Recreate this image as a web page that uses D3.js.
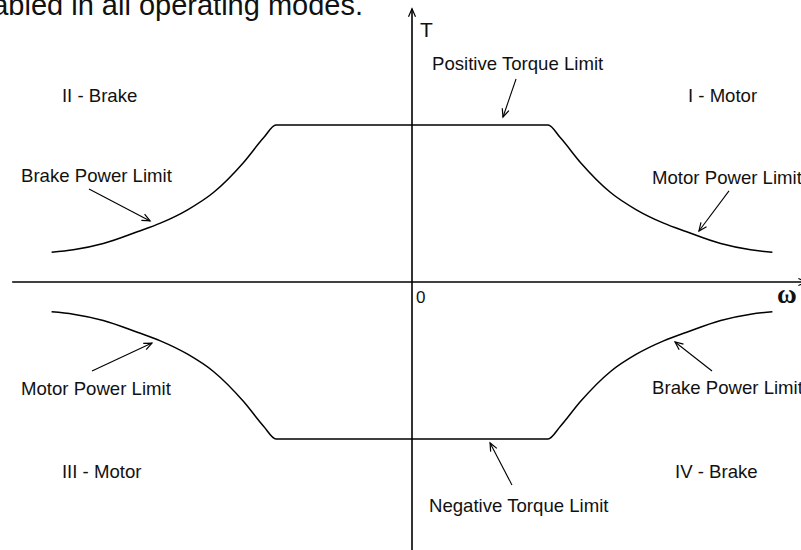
<!DOCTYPE html>
<html>
<head>
<meta charset="utf-8">
<script src="https://cdn.jsdelivr.net/npm/d3@7"></script>
<style>
  html, body { margin: 0; padding: 0; background: #ffffff; }
  svg { display: block; }
  text { font-family: "Liberation Sans", Arial, sans-serif; fill: #111; }
</style>
</head>
<body>
<svg id="chart" width="801" height="550"></svg>
<script>
// Torque-speed operating envelope, per-unit values (speed / base speed, torque / rated torque)
const limitSpeed  = [1.00, 1.09, 1.24, 1.46, 1.65, 1.85, 2.02, 2.27, 2.49, 2.65];
const limitTorque = [1.00, 0.92, 0.76, 0.57, 0.46, 0.375, 0.32, 0.245, 0.205, 0.19];

// Axis extents (per unit)
const speedAxis  = [-2.94, 2.90];
const torqueAxis = [-1.80, 1.74];

// Region and curve labels: [text, speed, torque] (torque = vertical centre of the text)
const labelText   = ["Positive Torque Limit", "II - Brake", "I - Motor", "Brake Power Limit", "Motor Power Limit",
                     "Motor Power Limit", "Brake Power Limit", "III - Motor", "IV - Brake", "Negative Torque Limit"];
const labelSpeed  = [0.147, -2.574, 2.029, -2.875, 1.765, -2.875, 1.765, -2.574, 1.934, 0.125];
const labelTorque = [1.395, 1.191, 1.191, 0.682, 0.669, -0.675, -0.669, -1.204, -1.204, -1.420];

// Pointer arrows: tail (speed, torque) -> head (speed, torque)
const arrowFromSpeed  = [0.765, -2.375, 2.331, -2.353, 2.206, 0.735];
const arrowFromTorque = [1.293, 0.592, 0.580, -0.567, -0.567, -1.293];
const arrowToSpeed    = [0.669, -1.926, 2.110, -1.912, 1.934, 0.574];
const arrowToTorque   = [1.051, 0.389, 0.325, -0.389, -0.382, -1.025];

const svg = d3.select("#chart");
const W = 801, H = 550;
svg.append("rect").attr("width", W).attr("height", H).attr("fill", "#fff");

const x = d3.scaleLinear().domain([-3, 3]).range([4, 820]);
const y = d3.scaleLinear().domain([-1, 1]).range([439, 125]);

// Caption text running in from the previous line
svg.append("text")
  .attr("x", 363).attr("y", 15)
  .attr("text-anchor", "end")
  .style("font-size", "29px")
  .text("is enabled in all operating modes.");

const ink = "#000";

// Open arrowhead helper
function arrowHead(g, x0, y0, x1, y1, len, half) {
  const a = Math.atan2(y1 - y0, x1 - x0);
  const bx = x1 - len * Math.cos(a), by = y1 - len * Math.sin(a);
  const px = -Math.sin(a) * half, py = Math.cos(a) * half;
  g.append("path")
    .attr("d", `M${bx + px},${by + py}L${x1},${y1}L${bx - px},${by - py}`)
    .attr("fill", "none").attr("stroke", ink).attr("stroke-width", 1.2);
}

// Axes
const axes = svg.append("g");
axes.append("line")
  .attr("x1", x(speedAxis[0])).attr("x2", x(speedAxis[1]))
  .attr("y1", y(0)).attr("y2", y(0))
  .attr("stroke", ink).attr("stroke-width", 1.6);
arrowHead(axes, x(speedAxis[0]), y(0), x(speedAxis[1]), y(0), 8, 3.5);
axes.append("line")
  .attr("x1", x(0)).attr("x2", x(0))
  .attr("y1", y(torqueAxis[0])).attr("y2", y(torqueAxis[1]))
  .attr("stroke", ink).attr("stroke-width", 1.6);
arrowHead(axes, x(0), y(torqueAxis[0]), x(0), y(torqueAxis[1]), 8, 3.5);

axes.append("text").attr("x", x(0.059)).attr("y", y(1.611) + 7.5)
  .style("font-size", "21px").text("T");
axes.append("text").attr("x", x(0.029)).attr("y", y(-0.096) + 6.3)
  .style("font-size", "17px").text("0");
axes.append("text").attr("x", x(2.757)).attr("y", y(-0.096) + 6)
  .attr("text-anchor", "middle")
  .style("font-family", "'Liberation Serif', 'Times New Roman', serif")
  .style("font-weight", "bold")
  .style("font-size", "27px").text("ω");

// Envelope: upper (positive torque) and lower (negative torque) boundaries
const upper = [];
for (let i = limitSpeed.length - 1; i >= 0; i--) upper.push([-limitSpeed[i], limitTorque[i]]);
for (let i = 0; i < limitSpeed.length; i++) upper.push([limitSpeed[i], limitTorque[i]]);
const lower = upper.map(d => [d[0], -d[1]]);

const line = d3.line().x(d => x(d[0])).y(d => y(d[1])).curve(d3.curveMonotoneX);
svg.append("g").selectAll("path").data([upper, lower]).join("path")
  .attr("d", line)
  .attr("fill", "none").attr("stroke", ink).attr("stroke-width", 1.5)
  .attr("stroke-linejoin", "round");

// Labels
const fs = 18.6;
svg.append("g").selectAll("text").data(labelText).join("text")
  .attr("x", (d, i) => x(labelSpeed[i]))
  .attr("y", (d, i) => y(labelTorque[i]) + 0.358 * fs)
  .style("font-size", fs + "px")
  .text(d => d);

// Pointer arrows
const arrows = svg.append("g");
arrowFromSpeed.forEach((s, i) => {
  const x0 = x(s), y0 = y(arrowFromTorque[i]);
  const x1 = x(arrowToSpeed[i]), y1 = y(arrowToTorque[i]);
  arrows.append("line").attr("x1", x0).attr("y1", y0).attr("x2", x1).attr("y2", y1)
    .attr("stroke", ink).attr("stroke-width", 1.1);
  arrowHead(arrows, x0, y0, x1, y1, 8, 3.5);
});
</script>
</body>
</html>
